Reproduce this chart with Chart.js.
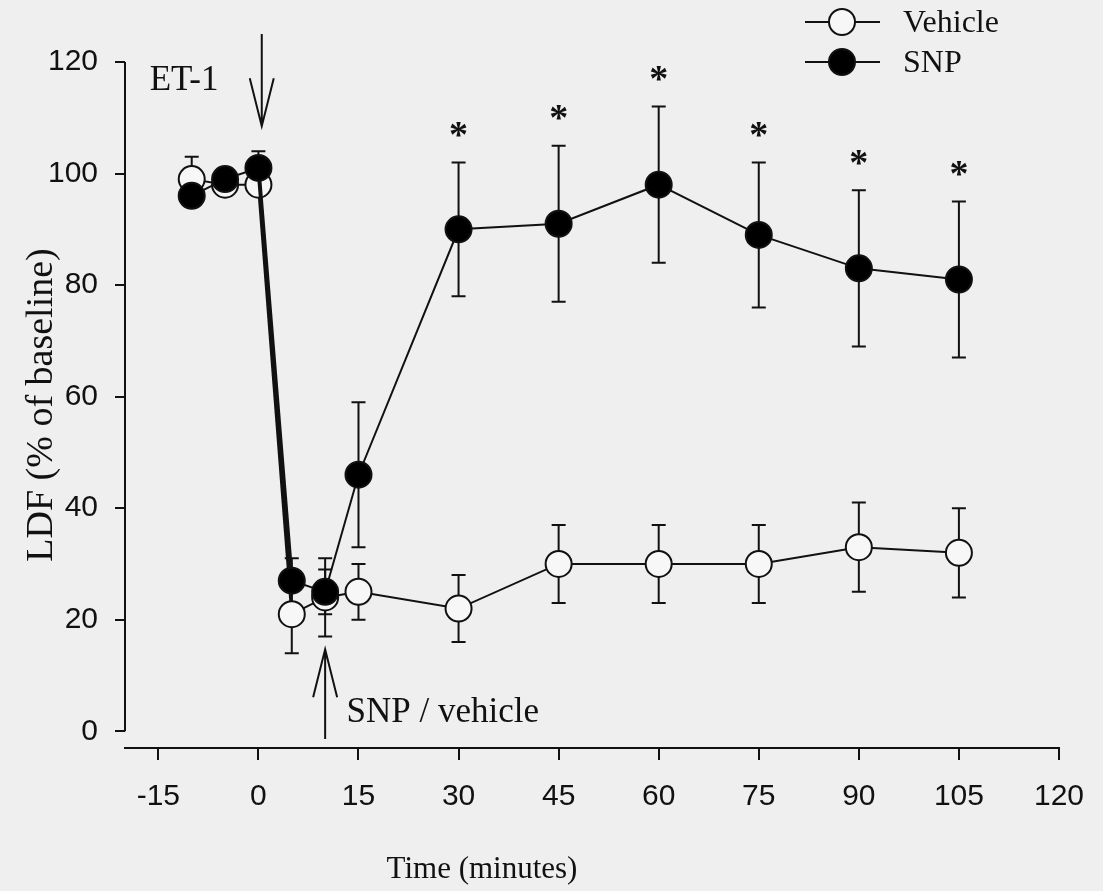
<!DOCTYPE html>
<html lang="en">
<head>
<meta charset="UTF-8">
<title>LDF</title>
<script src="https://cdn.jsdelivr.net/npm/chart.js"></script>
<style>
    body { margin: 0; background: #efefef; }
    #box { width: 1103px; height: 891px; }
</style>
</head>
<body>
<div id="box"><canvas id="grafico" width="1103" height="891"></canvas></div>

<script>
    // valores
    var tempos = [-10, -5, 0, 5, 10, 15, 30, 45, 60, 75, 90, 105];
    var veiculo = [99, 98, 98, 21, 24, 25, 22, 30, 30, 30, 33, 32];
    var veiculoErro = [4, 2, 2, 7, 7, 5, 6, 7, 7, 7, 8, 8];
    var snp = [96, 99, 101, 27, 25, 46, 90, 91, 98, 89, 83, 81];
    var snpErro = [2, 2, 3, 4, 4, 13, 12, 14, 14, 13, 14, 14];
    var significativo = [false, false, false, false, false, false, true, true, true, true, true, true];
    var xTicks = [-15, 0, 15, 30, 45, 60, 75, 90, 105, 120];
    var yTicks = [0, 20, 40, 60, 80, 100, 120];

    var tinta = '#111';
    var serif = 'Liberation Serif';
    var sans = 'Liberation Sans';

    function pontos(valores) {
        return tempos.map(function (t, i) { return { x: t, y: valores[i] }; });
    }

    function seta(ctx, x, yCauda, yPonta, tam, abertura) {
        var dir = yPonta > yCauda ? -1 : 1;
        ctx.beginPath();
        ctx.moveTo(x, yCauda);
        ctx.lineTo(x, yPonta);
        ctx.moveTo(x - abertura, yPonta + dir * tam);
        ctx.lineTo(x, yPonta);
        ctx.lineTo(x + abertura, yPonta + dir * tam);
        ctx.stroke();
    }

    var barrasErro = {
        id: 'barrasErro',
        beforeDatasetsDraw: function (chart) {
            var ctx = chart.ctx;
            var sx = chart.scales.x, sy = chart.scales.y;
            ctx.save();
            ctx.strokeStyle = tinta;
            ctx.lineWidth = 2;
            chart.data.datasets.forEach(function (ds) {
                ds.data.forEach(function (p, i) {
                    var e = ds.erros[i];
                    var px = sx.getPixelForValue(p.x);
                    var y1 = sy.getPixelForValue(p.y + e);
                    var y2 = sy.getPixelForValue(p.y - e);
                    ctx.beginPath();
                    ctx.moveTo(px, y1); ctx.lineTo(px, y2);
                    ctx.moveTo(px - 7, y1); ctx.lineTo(px + 7, y1);
                    ctx.moveTo(px - 7, y2); ctx.lineTo(px + 7, y2);
                    ctx.stroke();
                });
            });
            ctx.restore();
        }
    };

    var anotacoes = {
        id: 'anotacoes',
        afterDraw: function (chart) {
            var ctx = chart.ctx;
            var sx = chart.scales.x, sy = chart.scales.y;
            var area = chart.chartArea;
            ctx.save();
            ctx.strokeStyle = tinta;
            ctx.fillStyle = tinta;
            ctx.lineWidth = 2;

            // eixos
            ctx.beginPath();
            ctx.moveTo(area.left, sy.getPixelForValue(0));
            ctx.lineTo(area.left, sy.getPixelForValue(120));
            ctx.moveTo(area.left - 1, area.bottom);
            ctx.lineTo(sx.getPixelForValue(120) + 1, area.bottom);
            ctx.stroke();

            // setas
            seta(ctx, sx.getPixelForValue(0.5), sy.getPixelForValue(125), sy.getPixelForValue(108.5), 48, 12);
            seta(ctx, sx.getPixelForValue(10), sy.getPixelForValue(-1.4), sy.getPixelForValue(14.7), 48, 12);

            ctx.font = '35px "' + serif + '"';
            ctx.textAlign = 'left';
            ctx.textBaseline = 'alphabetic';
            ctx.fillText('ET-1', sx.getPixelForValue(-16.3), sy.getPixelForValue(115));
            ctx.fillText('SNP / vehicle', sx.getPixelForValue(13.2), sy.getPixelForValue(1.6));

            // asteriscos
            ctx.font = 'bold 38px "' + serif + '"';
            ctx.textAlign = 'center';
            ctx.textBaseline = 'middle';
            tempos.forEach(function (t, i) {
                if (significativo[i]) {
                    ctx.fillText('*', sx.getPixelForValue(t), sy.getPixelForValue(snp[i] + snpErro[i]) - 25);
                }
            });

            // titulo do eixo x
            ctx.font = '31px "' + serif + '"';
            ctx.textAlign = 'center';
            ctx.fillText('Time (minutes)', 482, 870);

            // legenda
            var itens = [
                { nome: 'Vehicle', cor: '#f7f7f7', y: 22 },
                { nome: 'SNP', cor: '#000', y: 62 }
            ];
            ctx.font = '32px "' + serif + '"';
            ctx.textAlign = 'left';
            itens.forEach(function (it) {
                ctx.beginPath();
                ctx.moveTo(805, it.y); ctx.lineTo(880, it.y);
                ctx.stroke();
                ctx.beginPath();
                ctx.arc(842, it.y, 13, 0, Math.PI * 2);
                ctx.fillStyle = it.cor;
                ctx.fill();
                ctx.stroke();
                ctx.fillStyle = tinta;
                ctx.fillText(it.nome, 903, it.y + 2);
            });
            ctx.restore();
        }
    };

    new Chart(document.getElementById('grafico'), {
        type: 'line',
        data: {
            datasets: [{
                label: 'SNP',
                data: pontos(snp),
                erros: snpErro,
                order: 0,
                borderColor: tinta,
                borderWidth: 2,
                pointRadius: 13,
                pointBorderWidth: 2,
                pointBackgroundColor: '#000',
                pointBorderColor: tinta,
                tension: 0,
                segment: { borderWidth: function (c) { return c.p0DataIndex === 2 ? 4 : 2; } }
            }, {
                label: 'Vehicle',
                data: pontos(veiculo),
                erros: veiculoErro,
                order: 1,
                borderColor: tinta,
                borderWidth: 2,
                pointRadius: 13,
                pointBorderWidth: 2,
                pointBackgroundColor: '#f7f7f7',
                pointBorderColor: tinta,
                tension: 0,
                segment: { borderWidth: function (c) { return c.p0DataIndex === 2 ? 3 : 2; } }
            }]
        },
        options: {
            responsive: false,
            animation: false,
            layout: { padding: { top: 62, right: 43, left: 0, bottom: 0 } },
            plugins: { legend: { display: false }, tooltip: { enabled: false } },
            scales: {
                x: {
                    type: 'linear',
                    min: -20,
                    max: 120,
                    afterBuildTicks: function (s) { s.ticks = xTicks.map(function (v) { return { value: v }; }); },
                    afterFit: function (s) { s.height = 143; },
                    border: { display: false },
                    grid: { drawOnChartArea: false, drawTicks: true, tickLength: 12, color: tinta, lineWidth: 2 },
                    ticks: { color: tinta, padding: 19, maxRotation: 0, font: { family: sans, size: 30 } }
                },
                y: {
                    min: -3,
                    max: 120,
                    afterBuildTicks: function (s) { s.ticks = yTicks.map(function (v) { return { value: v }; }); },
                    afterFit: function (s) { s.width = 125; },
                    border: { display: false },
                    grid: { drawOnChartArea: false, drawTicks: true, tickLength: 10, color: tinta, lineWidth: 2 },
                    ticks: { color: tinta, padding: 17, font: { family: sans, size: 30 } },
                    title: {
                        display: true,
                        text: 'LDF (% of baseline)',
                        color: tinta,
                        padding: { top: 19, bottom: 0 },
                        font: { family: serif, size: 38 }
                    }
                }
            }
        },
        plugins: [barrasErro, anotacoes]
    });
</script>
</body>
</html>
